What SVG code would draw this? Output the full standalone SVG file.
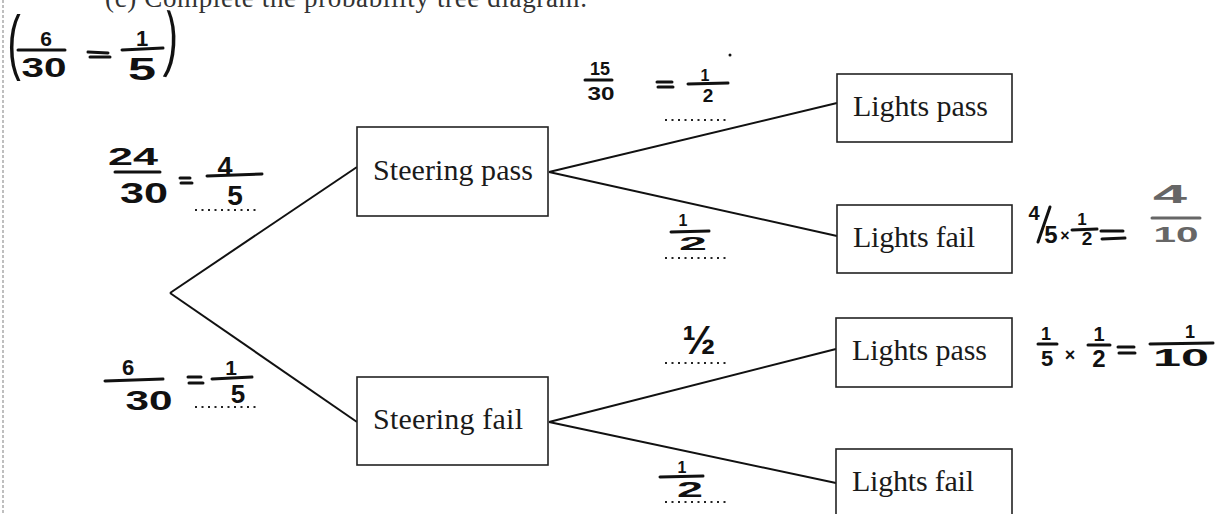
<svg xmlns="http://www.w3.org/2000/svg" width="1216" height="514" viewBox="0 0 1216 514">
<style>
.box{fill:#fff;stroke:#222;stroke-width:1.6}
.lbl{font-family:"Liberation Serif",serif;font-size:30px;fill:#1a1a1a}
.edge{stroke:#111;stroke-width:2;fill:none}
.hw{font-family:"Liberation Sans",sans-serif;font-weight:bold;fill:#111;text-anchor:middle}
.par{font-family:"Liberation Sans",sans-serif;font-weight:normal;fill:#111;text-anchor:middle;font-size:72px}
.bar{stroke:#111;stroke-width:3;stroke-linecap:round}
.dots{stroke:#222;stroke-width:2;stroke-dasharray:2 4.5}
.grey{fill:#666}
.gbar{stroke:#666;stroke-width:3;stroke-linecap:round}
</style>
<rect width="1216" height="514" fill="#fff"/>
<line x1="3" y1="0" x2="3" y2="514" stroke="#aaa" stroke-width="1.5" stroke-dasharray="3 2"/>
<text x="105" y="7" font-family="Liberation Serif,serif" font-size="27" fill="#333" textLength="482">(c)  Complete the probability tree diagram.</text>

<g id="connectors">
<line class="edge" x1="170" y1="293" x2="357" y2="167"/>
<line class="edge" x1="170" y1="293" x2="357" y2="422"/>
<line class="edge" x1="549" y1="172" x2="837" y2="103"/>
<line class="edge" x1="549" y1="172" x2="837" y2="236"/>
<line class="edge" x1="549" y1="422" x2="836" y2="349"/>
<line class="edge" x1="549" y1="422" x2="836" y2="483"/>
</g>

<g id="steering-pass"><rect class="box" x="357" y="127" width="191" height="89"/><text class="lbl" x="373" y="180" textLength="160">Steering pass</text></g>
<g id="steering-fail"><rect class="box" x="357" y="377" width="191" height="88"/><text class="lbl" x="373" y="429" textLength="150">Steering fail</text></g>
<g id="lights-pass-1"><rect class="box" x="837" y="74" width="175" height="68"/><text class="lbl" x="853" y="116" textLength="135">Lights pass</text></g>
<g id="lights-fail-1"><rect class="box" x="837" y="205" width="175" height="68"/><text class="lbl" x="853" y="247" textLength="122">Lights fail</text></g>
<g id="lights-pass-2"><rect class="box" x="836" y="318" width="176" height="69"/><text class="lbl" x="852" y="360" textLength="135">Lights pass</text></g>
<g id="lights-fail-2"><rect class="box" x="836" y="449" width="176" height="69"/><text class="lbl" x="852" y="491" textLength="122">Lights fail</text></g>

<g id="note-top">
<text class="par" transform="translate(14,66) scale(0.55,1)">(</text>
<text class="par" transform="translate(170,63) scale(0.55,1) rotate(6)">)</text>
<text class="hw" x="46" y="46" font-size="21">6</text>
<line class="bar" x1="18" y1="50" x2="65" y2="50"/>
<text class="hw" x="44" y="77" font-size="28" textLength="45" lengthAdjust="spacingAndGlyphs">30</text>
<line class="bar" x1="88" y1="52" x2="108" y2="53"/><line class="bar" x1="90" y1="57" x2="110" y2="57"/>
<text class="hw" x="142" y="46" font-size="22">1</text>
<line class="bar" x1="122" y1="50" x2="163" y2="48"/>
<text class="hw" x="142" y="80" font-size="32" textLength="28" lengthAdjust="spacingAndGlyphs">5</text>
</g>

<g id="prob-steering-pass">
<text class="hw" x="133" y="165" font-size="24" textLength="50" lengthAdjust="spacingAndGlyphs">24</text>
<line class="bar" x1="115" y1="172" x2="160" y2="172"/>
<text class="hw" x="144" y="203" font-size="30" textLength="48" lengthAdjust="spacingAndGlyphs">30</text>
<line class="bar" x1="180" y1="178" x2="190" y2="178"/><line class="bar" x1="181" y1="183" x2="192" y2="183"/>
<text class="hw" x="225" y="176" font-size="27">4</text>
<line class="bar" x1="207" y1="176" x2="262" y2="174"/>
<text class="hw" x="235" y="205" font-size="28">5</text>
<line class="dots" x1="195" y1="210" x2="258" y2="210"/>
</g>

<g id="prob-lights-pass-1">
<text class="hw" x="600" y="75" font-size="18" textLength="20" lengthAdjust="spacingAndGlyphs">15</text>
<line class="bar" x1="585" y1="80" x2="612" y2="80"/>
<text class="hw" x="601" y="100" font-size="18" textLength="27" lengthAdjust="spacingAndGlyphs">30</text>
<line class="bar" x1="657" y1="82" x2="672" y2="82"/><line class="bar" x1="658" y1="87" x2="673" y2="87"/>
<text class="hw" x="705" y="81" font-size="16">1</text>
<line class="bar" x1="688" y1="84" x2="728" y2="83"/>
<text class="hw" x="708" y="102" font-size="19">2</text>
<circle cx="730" cy="55" r="1.5" fill="#111"/>
<line class="dots" x1="665" y1="120" x2="727" y2="120"/>
</g>

<g id="prob-lights-fail-1">
<text class="hw" x="683" y="226" font-size="16">1</text>
<line class="bar" x1="671" y1="232" x2="709" y2="231"/>
<text class="hw" x="693" y="250" font-size="18" textLength="28" lengthAdjust="spacingAndGlyphs">2</text>
<line class="dots" x1="665" y1="258" x2="728" y2="258"/>
</g>

<g id="calc-1">
<text class="hw" x="1034" y="220" font-size="20">4</text>
<line class="bar" x1="1050" y1="207" x2="1038" y2="242"/>
<text class="hw" x="1051" y="243" font-size="24">5</text>
<text class="hw" x="1065" y="241" font-size="16">×</text>
<text class="hw" x="1082" y="225" font-size="17">1</text>
<line class="bar" x1="1072" y1="230" x2="1097" y2="229"/>
<text class="hw" x="1087" y="245" font-size="19">2</text>
<line class="bar" x1="1101" y1="231" x2="1123" y2="231"/><line class="bar" x1="1102" y1="239" x2="1125" y2="238"/>
<text class="hw grey" x="1170" y="203" font-size="26" textLength="34" lengthAdjust="spacingAndGlyphs">4</text>
<line class="gbar" x1="1152" y1="218" x2="1200" y2="218"/>
<text class="hw grey" x="1176" y="242" font-size="22" textLength="45" lengthAdjust="spacingAndGlyphs">10</text>
</g>

<g id="prob-steering-fail">
<text class="hw" x="128" y="375" font-size="22">6</text>
<line class="bar" x1="105" y1="381" x2="163" y2="379"/>
<text class="hw" x="149" y="410" font-size="28" textLength="47" lengthAdjust="spacingAndGlyphs">30</text>
<line class="bar" x1="188" y1="377" x2="201" y2="377"/><line class="bar" x1="189" y1="383" x2="203" y2="383"/>
<text class="hw" x="231" y="375" font-size="21">1</text>
<line class="bar" x1="212" y1="379" x2="252" y2="377"/>
<text class="hw" x="238" y="403" font-size="26">5</text>
<line class="dots" x1="195" y1="407" x2="258" y2="407"/>
</g>

<g id="prob-lights-pass-2">
<text class="hw" x="699" y="354" font-size="40">½</text>
<line class="dots" x1="665" y1="363" x2="728" y2="363"/>
</g>

<g id="calc-2">
<text class="hw" x="1046" y="340" font-size="18">1</text>
<line class="bar" x1="1038" y1="344" x2="1057" y2="344"/>
<text class="hw" x="1047" y="366" font-size="22">5</text>
<text class="hw" x="1070" y="361" font-size="18">×</text>
<text class="hw" x="1099" y="341" font-size="20">1</text>
<line class="bar" x1="1088" y1="345" x2="1110" y2="345"/>
<text class="hw" x="1099" y="367" font-size="24">2</text>
<line class="bar" x1="1118" y1="347" x2="1134" y2="347"/><line class="bar" x1="1119" y1="353" x2="1135" y2="353"/>
<text class="hw" x="1190" y="338" font-size="18">1</text>
<line class="bar" x1="1150" y1="344" x2="1213" y2="343"/>
<text class="hw" x="1181" y="366" font-size="24" textLength="56" lengthAdjust="spacingAndGlyphs">10</text>
</g>

<g id="prob-lights-fail-2">
<text class="hw" x="682" y="473" font-size="16">1</text>
<line class="bar" x1="660" y1="477" x2="703" y2="476"/>
<text class="hw" x="690" y="497" font-size="22" textLength="26" lengthAdjust="spacingAndGlyphs">2</text>
<line class="dots" x1="665" y1="502" x2="728" y2="502"/>
</g>
</svg>
